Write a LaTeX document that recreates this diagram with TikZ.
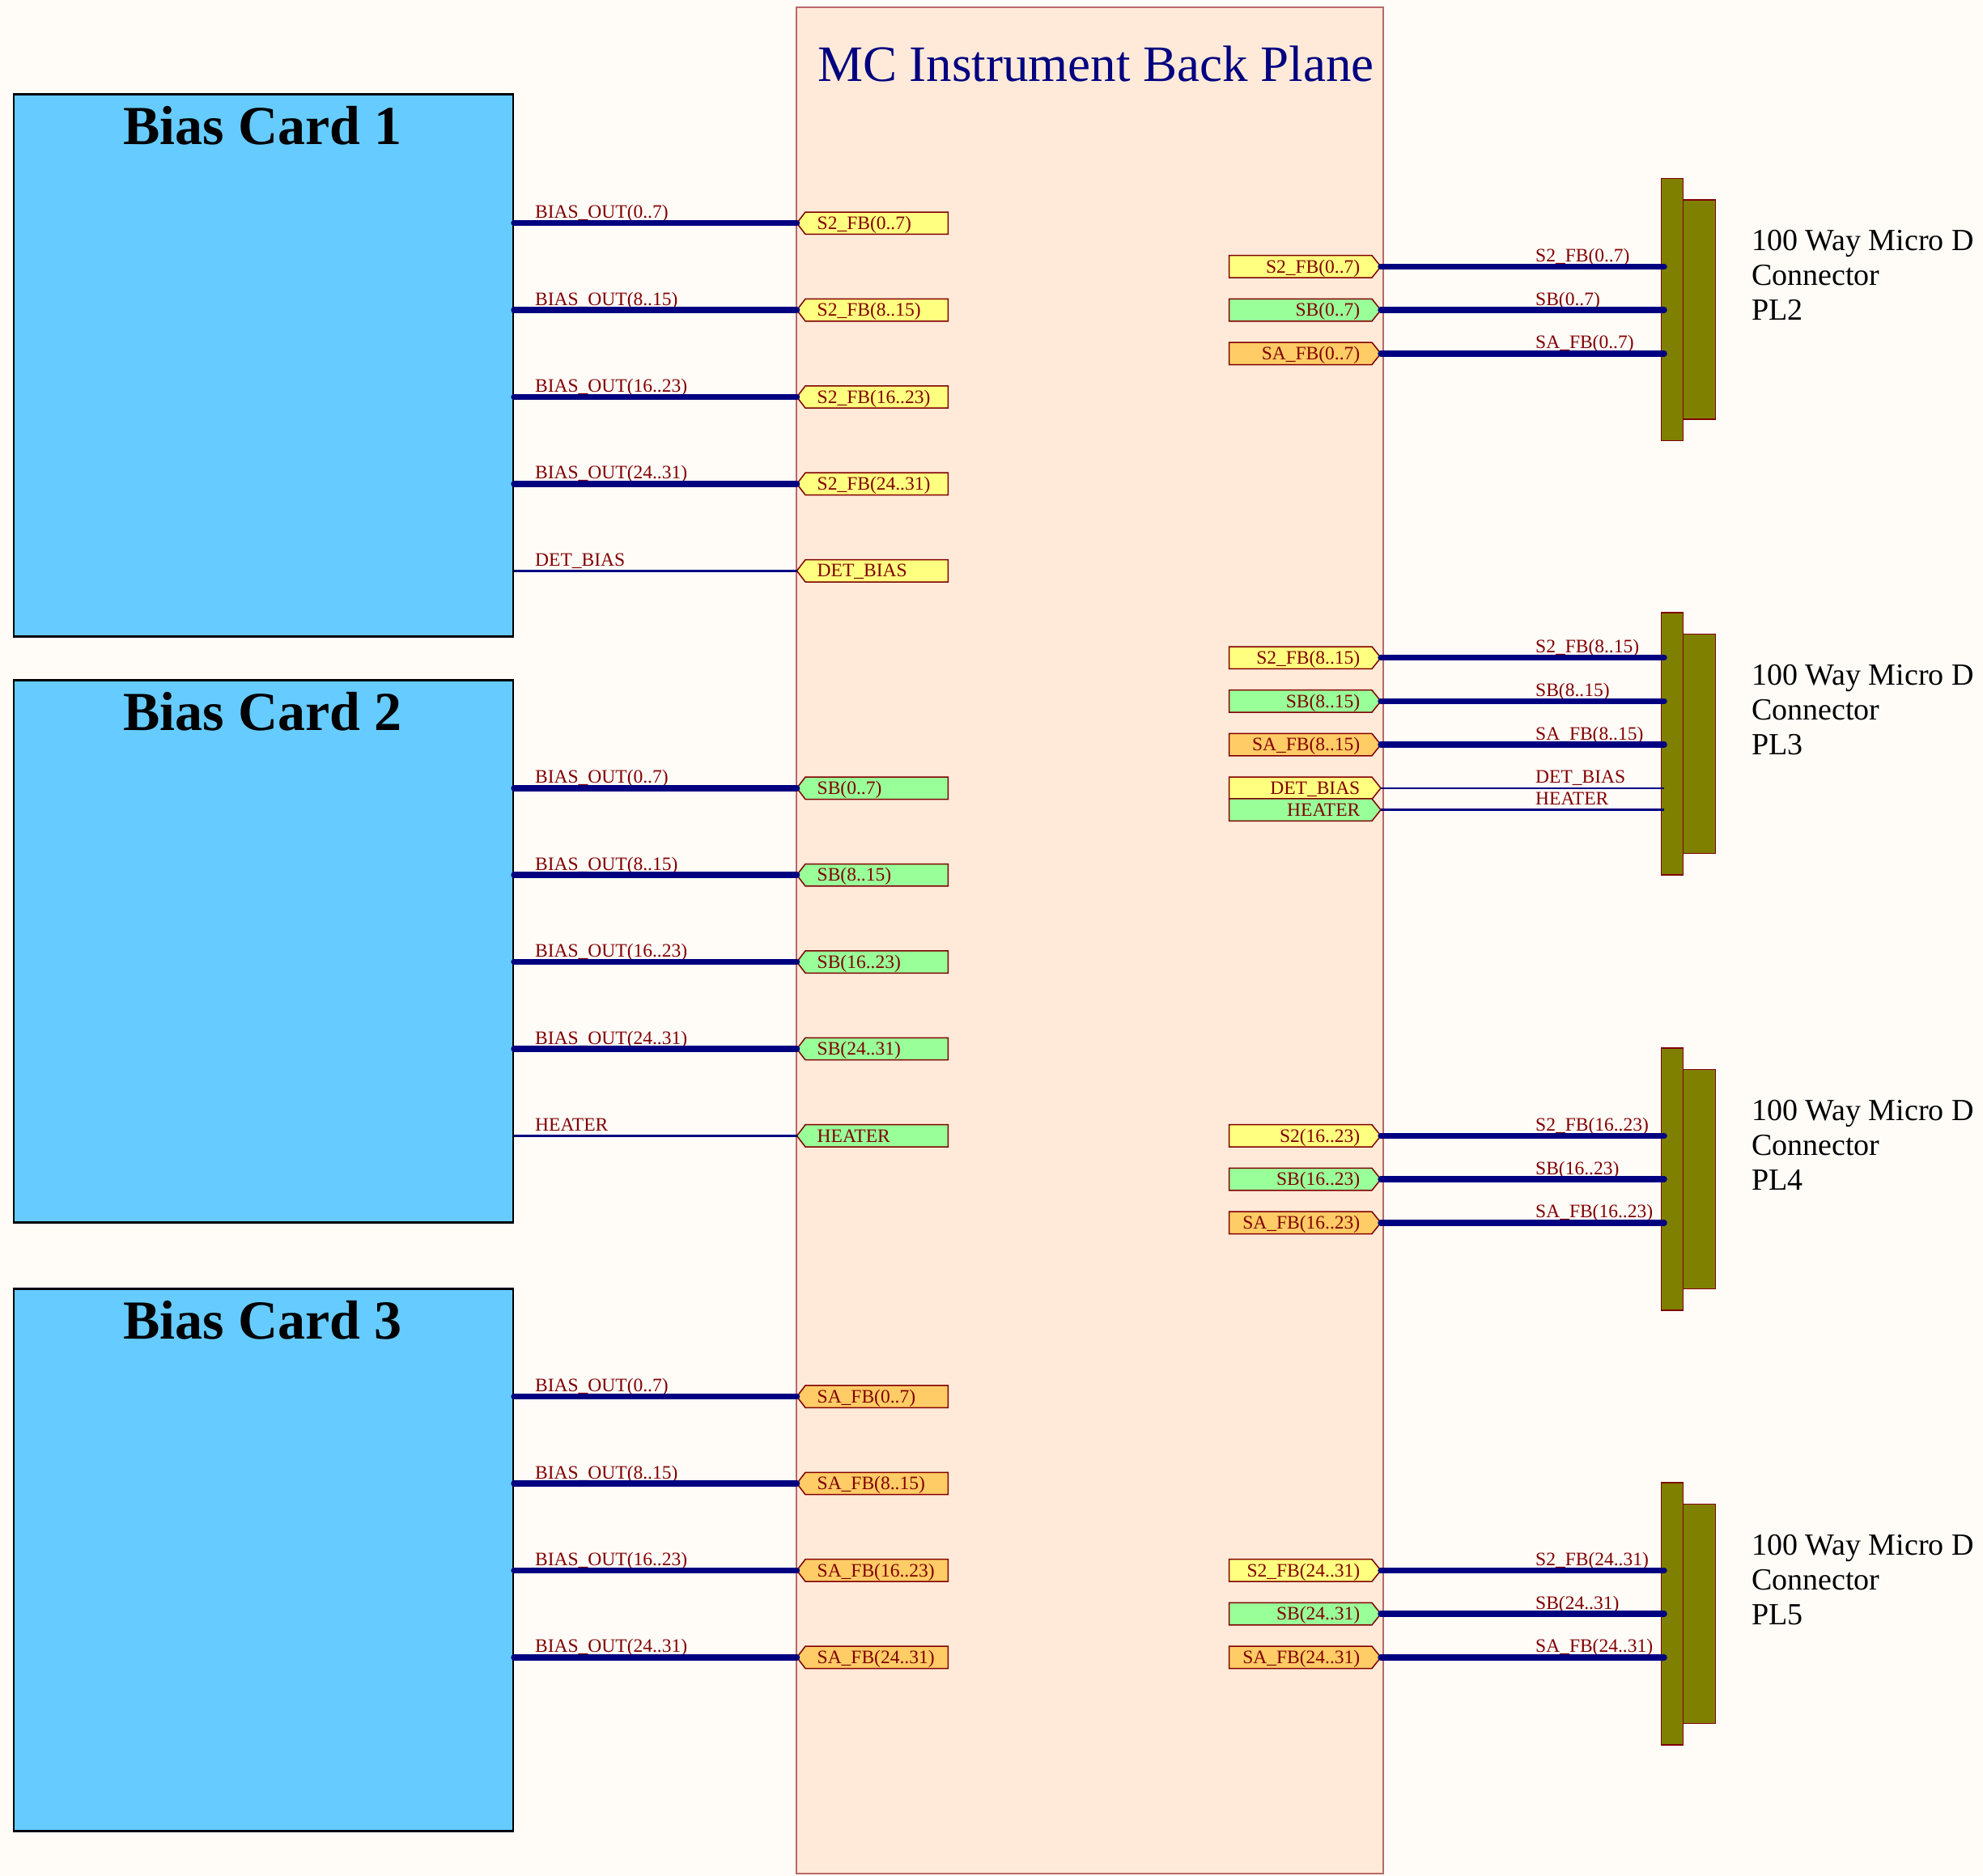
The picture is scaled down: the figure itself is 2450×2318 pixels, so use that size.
\documentclass[tikz,border=0pt]{standalone}
\usepackage{fontspec}
\setmainfont{Liberation Serif}
\definecolor{pagebg}{HTML}{FFFCF8}
\definecolor{bpfill}{HTML}{FFEAD9}
\definecolor{bpedge}{HTML}{B86868}
\definecolor{cardfill}{HTML}{66CCFF}
\definecolor{maroonc}{HTML}{800000}
\definecolor{netnavy}{HTML}{000080}
\definecolor{tagyel}{HTML}{FFFF80}
\definecolor{taggrn}{HTML}{99FF99}
\definecolor{tagorg}{HTML}{FFCC66}
\definecolor{olivec}{HTML}{808000}
\pgfdeclarelayer{bg}
\pgfdeclarelayer{mid}
\pgfsetlayers{bg,mid,main}
\tikzset{
  bus/.style={line width=7.5pt, draw=netnavy, line cap=round},
  thinbus/.style={line width=2.5pt, draw=netnavy},
  tagtxt/.style={font=\fontsize{23.5}{28}\selectfont, text=maroonc, minimum width=176pt, minimum height=27pt,
    inner xsep=14.5pt, inner ysep=0pt, text width=147pt, text height=17pt, text depth=1.8pt},
  tagout/.style={draw=maroonc, line width=1.5pt, line join=miter},
  netlbl/.style={font=\fontsize{23.5}{28}\selectfont, text=maroonc, anchor=base west, inner sep=0pt},
  cardbox/.style={draw=black, line width=2.5pt, fill=cardfill, minimum width=617pt, minimum height=670pt, inner sep=0pt, anchor=north west},
  cardtitle/.style={font=\fontsize{68}{80}\selectfont\bfseries, anchor=base, inner sep=0pt},
  connin/.style={draw=maroonc, fill=olivec, line width=1.5pt, minimum width=27pt, minimum height=324pt, inner sep=0pt, anchor=north west},
  connout/.style={draw=maroonc, fill=olivec, line width=1.5pt, minimum width=40pt, minimum height=271pt, inner sep=0pt, anchor=north west},
  connlbl/.style={font=\fontsize{38}{45}\selectfont, anchor=base west, inner sep=0pt}
}
% left row: name, row index, card node, net label, tag text, tag colour, line style
\newcommand\LeftRow[7]{%
  \node[tagtxt, align=left, anchor=west] (#1) at (995,{275.7+#2*53.7}) {#5};
  \begin{pgfonlayer}{mid}
    \filldraw[tagout, fill=#6] (#1.north east) -- (#1.north west) -- ([xshift=-10.5pt]#1.west) -- (#1.south west) -- (#1.south east) -- cycle;
  \end{pgfonlayer}
  \coordinate (#1-tip) at ([xshift=-10.5pt]#1.west);
  \node[netlbl] (#1-net) at (661,{275.7+#2*53.7-6}) {#4};
  \draw[#7] (#3.east |- #1-tip) -- (#1-tip);
}
% right row: name, row index, connector end coordinate, net label, tag text, tag colour, line style
\newcommand\RightRow[7]{%
  \node[tagtxt, align=right, anchor=east] (#1) at (1695,{275.7+#2*53.7}) {#5};
  \begin{pgfonlayer}{mid}
    \filldraw[tagout, fill=#6] (#1.north west) -- (#1.north east) -- ([xshift=11pt]#1.east) -- (#1.south east) -- (#1.south west) -- cycle;
  \end{pgfonlayer}
  \coordinate (#1-tip) at ([xshift=11pt]#1.east);
  \node[netlbl] (#1-net) at (1897,{275.7+#2*53.7-6}) {#4};
  \draw[#7] (#1-tip) -- (#3 |- #1-tip);
}
% connector: name, top y, label
\newcommand\Conn[3]{%
  \node[connin] (#1in) at (2051.5,#2) {};
  \node[connout] (#1out) at (2078.5,{#2+26.5}) {};
  \coordinate (#1end) at ([xshift=4.5pt]#1in.west);
  \node[connlbl] (#1la) at (2164,{#2+90}) {100 Way Micro D};
  \node[connlbl] (#1lb) at (2164,{#2+133}) {Connector};
  \node[connlbl] (#1lc) at (2164,{#2+176}) {#3};
}
\begin{document}
\begin{tikzpicture}[x=1pt,y=-1pt]
\useasboundingbox (0,0) rectangle (2450,2318);
\begin{pgfonlayer}{bg}
  \fill[pagebg] (0,0) rectangle (2450,2318);
  \node[draw=bpedge, fill=bpfill, line width=2pt, minimum width=725pt, minimum height=2306pt, anchor=north west, inner sep=0pt] (bp) at (983,8) {};
\end{pgfonlayer}
\node[font=\fontsize{63}{73}\selectfont, text=netnavy, anchor=base west, inner sep=0pt] (bptitle) at (1010,100.7) {MC Instrument Back Plane};

% bias cards
\node[cardbox] (card1) at (15.6,115) {};
\node[cardtitle] (card1t) at (324.3,178) {Bias Card 1};
\node[cardbox] (card2) at (15.6,839) {};
\node[cardtitle] (card2t) at (324.3,902) {Bias Card 2};
\node[cardbox] (card3) at (15.6,1591) {};
\node[cardtitle] (card3t) at (324.3,1654) {Bias Card 3};

\LeftRow{a1}{0}{card1}{BIAS\_OUT(0..7)}{S2\_FB(0..7)}{tagyel}{bus}
\LeftRow{a2}{2}{card1}{BIAS\_OUT(8..15)}{S2\_FB(8..15)}{tagyel}{bus}
\LeftRow{a3}{4}{card1}{BIAS\_OUT(16..23)}{S2\_FB(16..23)}{tagyel}{bus}
\LeftRow{a4}{6}{card1}{BIAS\_OUT(24..31)}{S2\_FB(24..31)}{tagyel}{bus}
\LeftRow{a5}{8}{card1}{DET\_BIAS}{DET\_BIAS}{tagyel}{thinbus}

\LeftRow{b1}{13}{card2}{BIAS\_OUT(0..7)}{SB(0..7)}{taggrn}{bus}
\LeftRow{b2}{15}{card2}{BIAS\_OUT(8..15)}{SB(8..15)}{taggrn}{bus}
\LeftRow{b3}{17}{card2}{BIAS\_OUT(16..23)}{SB(16..23)}{taggrn}{bus}
\LeftRow{b4}{19}{card2}{BIAS\_OUT(24..31)}{SB(24..31)}{taggrn}{bus}
\LeftRow{b5}{21}{card2}{HEATER}{HEATER}{taggrn}{thinbus}

\LeftRow{c1}{27}{card3}{BIAS\_OUT(0..7)}{SA\_FB(0..7)}{tagorg}{bus}
\LeftRow{c2}{29}{card3}{BIAS\_OUT(8..15)}{SA\_FB(8..15)}{tagorg}{bus}
\LeftRow{c3}{31}{card3}{BIAS\_OUT(16..23)}{SA\_FB(16..23)}{tagorg}{bus}
\LeftRow{c4}{33}{card3}{BIAS\_OUT(24..31)}{SA\_FB(24..31)}{tagorg}{bus}

% connectors
\Conn{pla}{219.5}{PL2}
\Conn{plb}{756}{PL3}
\Conn{plc}{1294}{PL4}
\Conn{pld}{1831}{PL5}

\RightRow{r1}{1}{plaend}{S2\_FB(0..7)}{S2\_FB(0..7)}{tagyel}{bus}
\RightRow{r2}{2}{plaend}{SB(0..7)}{SB(0..7)}{taggrn}{bus}
\RightRow{r3}{3}{plaend}{SA\_FB(0..7)}{SA\_FB(0..7)}{tagorg}{bus}

\RightRow{s1}{10}{plbend}{S2\_FB(8..15)}{S2\_FB(8..15)}{tagyel}{bus}
\RightRow{s2}{11}{plbend}{SB(8..15)}{SB(8..15)}{taggrn}{bus}
\RightRow{s3}{12}{plbend}{SA\_FB(8..15)}{SA\_FB(8..15)}{tagorg}{bus}
\RightRow{s4}{13}{plbend}{DET\_BIAS}{DET\_BIAS}{tagyel}{thinbus}
\RightRow{s5}{13.5}{plbend}{HEATER}{HEATER}{taggrn}{thinbus}

\RightRow{t1}{21}{plcend}{S2\_FB(16..23)}{S2(16..23)}{tagyel}{bus}
\RightRow{t2}{22}{plcend}{SB(16..23)}{SB(16..23)}{taggrn}{bus}
\RightRow{t3}{23}{plcend}{SA\_FB(16..23)}{SA\_FB(16..23)}{tagorg}{bus}

\RightRow{u1}{31}{pldend}{S2\_FB(24..31)}{S2\_FB(24..31)}{tagyel}{bus}
\RightRow{u2}{32}{pldend}{SB(24..31)}{SB(24..31)}{taggrn}{bus}
\RightRow{u3}{33}{pldend}{SA\_FB(24..31)}{SA\_FB(24..31)}{tagorg}{bus}
\end{tikzpicture}
\end{document}
